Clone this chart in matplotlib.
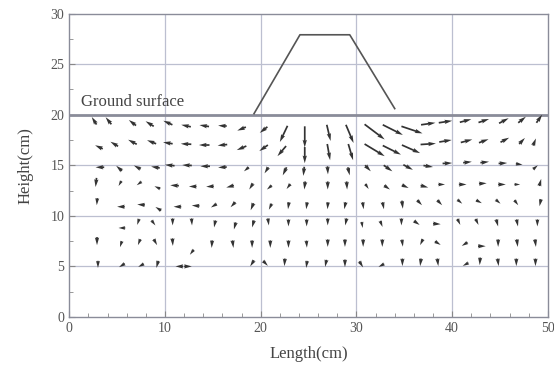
import matplotlib.pyplot as plt
from matplotlib.ticker import MultipleLocator

plt.rcParams['font.family'] = ['Liberation Serif', 'DejaVu Serif']

# displacement vectors (cm, as drawn), grouped by mesh row from the surface down
x_pos = [2.6, 4.1, 6.6, 8.4, 10.3, 12.2, 14.1, 16.0, 18.0, 20.3, 22.4, 24.6, 27.1, 29.3, 31.9, 33.8, 35.8, 37.5, 39.3, 41.4, 43.3, 45.4, 47.3, 49.1,
         3.1, 4.7, 6.6, 8.6, 10.3, 12.2, 14.1, 16.0, 18.0, 20.3, 22.2, 24.6, 27.1, 29.4, 31.9, 33.7, 35.7, 37.5, 39.3, 41.5, 43.3, 45.5, 47.3, 48.6,
         3.2, 5.2, 7.1, 9.0, 10.5, 12.3, 14.2, 16.0, 18.5, 20.6, 22.5, 24.5, 27.0, 29.2, 31.2, 33.3, 35.4, 37.5, 39.5, 41.6, 43.4, 45.3, 47.0, 48.7,
         2.8, 5.3, 7.3, 9.2, 11.0, 12.9, 14.7, 16.8, 19.0, 20.9, 22.9, 24.6, 27.0, 29.0, 31.1, 33.2, 35.1, 37.1, 38.9, 41.1, 43.2, 45.2, 46.8, 49.2,
         2.9, 5.4, 7.5, 9.3, 11.3, 13.2, 15.1, 17.1, 19.1, 21.0, 22.9, 24.8, 27.0, 28.8, 30.7, 32.8, 34.8, 36.6, 38.7, 40.8, 42.8, 44.8, 46.7, 49.2,
         5.5, 7.2, 8.8, 10.8, 12.8, 15.2, 17.3, 19.2, 20.8, 22.9, 24.8, 27.0, 28.9, 30.6, 32.6, 34.7, 36.3, 38.4, 40.7, 42.6, 44.7, 46.8, 48.9,
         2.9, 5.4, 7.3, 9.0, 10.8, 12.8, 14.9, 17.1, 19.1, 21.0, 22.9, 24.8, 27.0, 28.8, 30.7, 32.7, 34.8, 36.8, 38.5, 41.3, 43.1, 44.8, 46.8, 48.7,
         3.0, 5.5, 7.5, 9.2, 11.5, 12.4, 19.1, 20.5, 22.5, 24.8, 26.8, 28.8, 30.5, 32.6, 34.8, 36.7, 38.5, 41.4, 42.9, 44.8, 46.7, 48.7]
y_pos = [19.4, 19.4, 19.2, 19.1, 19.2, 18.9, 18.9, 18.9, 18.6, 18.5, 18.1, 17.8, 18.2, 18.1, 18.3, 18.5, 18.5, 19.1, 19.3, 19.4, 19.4, 19.4, 19.5, 19.6,
         16.8, 17.1, 17.3, 17.3, 17.2, 17.1, 17.0, 17.0, 16.7, 16.7, 16.4, 16.0, 16.3, 16.3, 16.5, 16.5, 16.6, 17.1, 17.4, 17.4, 17.4, 17.5, 17.4, 17.3,
         14.8, 14.7, 14.8, 14.8, 15.0, 15.0, 14.9, 14.8, 14.6, 14.5, 14.4, 14.4, 14.5, 14.4, 14.7, 14.7, 14.8, 14.9, 15.2, 15.3, 15.3, 15.2, 15.1, 14.8,
         13.3, 13.2, 13.2, 12.8, 13.0, 12.9, 12.9, 12.9, 12.9, 12.8, 12.9, 13.0, 13.0, 13.0, 12.9, 12.8, 12.9, 12.9, 13.1, 13.1, 13.2, 13.1, 13.1, 13.3,
         11.4, 10.9, 11.1, 10.7, 10.9, 11.0, 11.0, 11.1, 10.9, 10.9, 11.0, 11.0, 11.0, 11.0, 11.0, 11.0, 11.1, 11.3, 11.3, 11.4, 11.4, 11.4, 11.3, 11.3,
         8.8, 9.4, 9.3, 9.4, 9.4, 9.2, 9.0, 9.2, 9.4, 9.3, 9.3, 9.4, 9.4, 9.1, 9.2, 9.4, 9.3, 9.2, 9.4, 9.4, 9.3, 9.3, 9.3,
         7.5, 7.2, 7.4, 7.4, 7.4, 6.4, 7.2, 7.2, 7.2, 7.2, 7.2, 7.2, 7.3, 7.3, 7.3, 7.3, 7.3, 7.4, 7.3, 7.2, 7.0, 7.3, 7.3, 7.3,
         5.2, 5.1, 5.1, 5.2, 5.0, 5.0, 5.3, 5.3, 5.4, 5.2, 5.3, 5.3, 5.2, 5.1, 5.4, 5.4, 5.4, 5.2, 5.5, 5.4, 5.4, 5.4]
u_disp = [-0.5, -0.6, -0.75, -0.85, -0.95, -1.0, -1.0, -0.9, -0.9, -0.8, -0.8, 0.0, 0.4, 0.8, 2.1, 2.1, 2.2, 1.5, 1.4, 1.2, 1.1, 1.0, 0.8, 0.6,
          -0.8, -0.8, -0.9, -0.95, -1.0, -1.1, -1.1, -1.0, -1.0, -0.9, -0.9, 0.0, 0.3, 0.5, 2.1, 1.9, 1.9, 1.6, 1.3, 1.2, 1.0, 0.9, 0.6, 0.3,
          -0.9, -0.6, -0.7, -0.9, -1.0, -1.0, -1.0, -0.9, -0.5, -0.4, -0.4, -0.1, 0.05, 0.2, 0.6, 0.9, 1.0, 1.0, 1.0, 0.9, 0.9, 0.9, 0.7, 0.5,
          -0.1, -0.3, -0.5, -0.6, -0.9, -0.8, -0.8, -0.8, -0.4, -0.5, -0.4, -0.1, 0.0, 0.05, 0.35, 0.6, 0.7, 0.8, 0.7, 0.8, 0.8, 0.8, 0.6, 0.2,
          -0.05, -0.8, -0.8, -0.6, -0.8, -0.8, -0.6, -0.5, -0.3, -0.3, -0.1, -0.1, -0.05, -0.15, 0.1, 0.15, 0.1, 0.5, 0.5, 0.5, 0.6, 0.5, 0.4, -0.15,
          -0.7, -0.2, 0.4, 0.0, 0.05, -0.15, -0.2, -0.2, 0.1, 0.0, 0.0, 0.0, -0.15, 0.1, 0.25, 0.0, 0.6, 0.8, 0.3, 0.3, 0.2, 0.15, 0.0,
          0.0, -0.2, -0.25, 0.35, 0.05, -0.4, -0.05, 0.1, 0.0, 0.0, 0.0, 0.05, 0.0, 0.0, 0.0, 0.0, 0.1, -0.3, 0.6, -0.6, 0.8, 0.0, 0.1, 0.1,
          0.0, -0.6, -0.6, -0.2, -0.8, 0.8, -0.4, 0.5, -0.05, -0.1, -0.15, 0.0, 0.4, -0.6, 0.0, -0.1, 0.1, -0.6, -0.05, 0.1, 0.0, 0.0]
v_disp = [0.75, 0.7, 0.55, 0.5, 0.4, 0.2, 0.15, 0.05, -0.35, -0.6, -1.6, -2.1, -1.6, -1.8, -1.5, -1.0, -0.7, 0.2, 0.2, 0.3, 0.35, 0.5, 0.6, 0.8,
          0.35, 0.45, 0.45, 0.35, 0.15, 0.05, 0.0, -0.1, -0.4, -0.6, -1.0, -1.6, -1.6, -1.6, -1.2, -0.9, -0.8, 0.1, 0.2, 0.3, 0.35, 0.45, 0.6, 0.7,
          0.0, 0.5, 0.35, 0.15, 0.1, 0.05, 0.0, -0.05, -0.4, -0.6, -0.8, -0.9, -0.8, -0.8, -0.6, -0.6, -0.5, -0.15, 0.05, 0.1, 0.1, 0.05, -0.1, 0.4,
          -0.9, -0.5, -0.35, 0.25, 0.05, 0.0, -0.05, -0.2, -0.6, -0.4, -0.5, -0.8, -0.8, -0.8, -0.5, -0.4, -0.3, -0.2, 0.0, 0.0, 0.05, 0.0, 0.0, 0.7,
          -0.7, 0.0, 0.05, 0.35, 0.0, 0.05, -0.35, -0.5, -0.7, -0.6, -0.7, -0.7, -0.7, -0.7, -0.7, -0.7, -0.8, -0.5, -0.5, -0.4, -0.3, -0.4, -0.5, -0.7,
          0.0, -0.6, -0.5, -0.7, -0.7, -0.7, -0.7, -0.7, -0.7, -0.7, -0.7, -0.7, -0.7, -0.6, -0.6, -0.7, -0.4, -0.05, -0.6, -0.6, -0.7, -0.7, -0.7,
          -0.8, -0.6, -0.6, -0.6, -0.75, -0.5, -0.75, -0.75, -0.75, -0.75, -0.75, -0.7, -0.75, -0.75, -0.75, -0.75, -0.7, -0.6, -0.35, -0.35, 0.0, -0.75, -0.75, -0.75,
          -0.7, -0.35, -0.3, -0.7, 0.0, 0.0, -0.6, -0.5, -0.75, -0.7, -0.7, -0.75, -0.6, -0.3, -0.75, -0.75, -0.75, -0.3, -0.75, -0.75, -0.75, -0.75]

# embankment outline
emb_x = [19.3, 24.1, 29.3, 34.0]
emb_y = [20.1, 27.9, 27.9, 20.6]

fig = plt.figure(figsize=(5.54, 3.76), dpi=100, facecolor='white')
ax = fig.add_axes([0.125, 0.157, 0.864, 0.807])

for gx in [10, 20, 30, 40]:
    ax.axvline(gx, color='#bcbfd0', lw=0.9, zorder=1)
for gy in [5, 10, 15, 25]:
    ax.axhline(gy, color='#bcbfd0', lw=0.9, zorder=1)
ax.axhline(20, color='#8a8c99', lw=2.0, zorder=2)

ax.plot(emb_x, emb_y, color='#555555', lw=1.2, zorder=3)
ax.text(1.2, 20.5, 'Ground surface', fontsize=12, color='#444444', va='bottom')

ax.quiver(x_pos, y_pos, u_disp, v_disp, angles='xy', scale_units='xy', scale=1,
          pivot='mid', color='#333333', width=0.0036, headwidth=2.5,
          headlength=4.5, headaxislength=4.0, zorder=4)

ax.set_xlim(0, 50)
ax.set_ylim(0, 30)
ax.xaxis.set_major_locator(MultipleLocator(10))
ax.xaxis.set_minor_locator(MultipleLocator(2))
ax.yaxis.set_major_locator(MultipleLocator(5))
ax.yaxis.set_minor_locator(MultipleLocator(2.5))
ax.tick_params(which='both', direction='in', colors='#888888', labelcolor='#555555',
               labelsize=10, top=False, right=False)
ax.tick_params(which='major', length=4)
ax.tick_params(which='minor', length=3)
for s in ax.spines.values():
    s.set_color('#8a8c99')
    s.set_linewidth(1.0)

ax.set_xlabel('Length(cm)', fontsize=12, color='#444444', labelpad=8)
ax.set_ylabel('Height(cm)', fontsize=12, color='#444444', labelpad=12)

fig.savefig('out.png', dpi=100)
